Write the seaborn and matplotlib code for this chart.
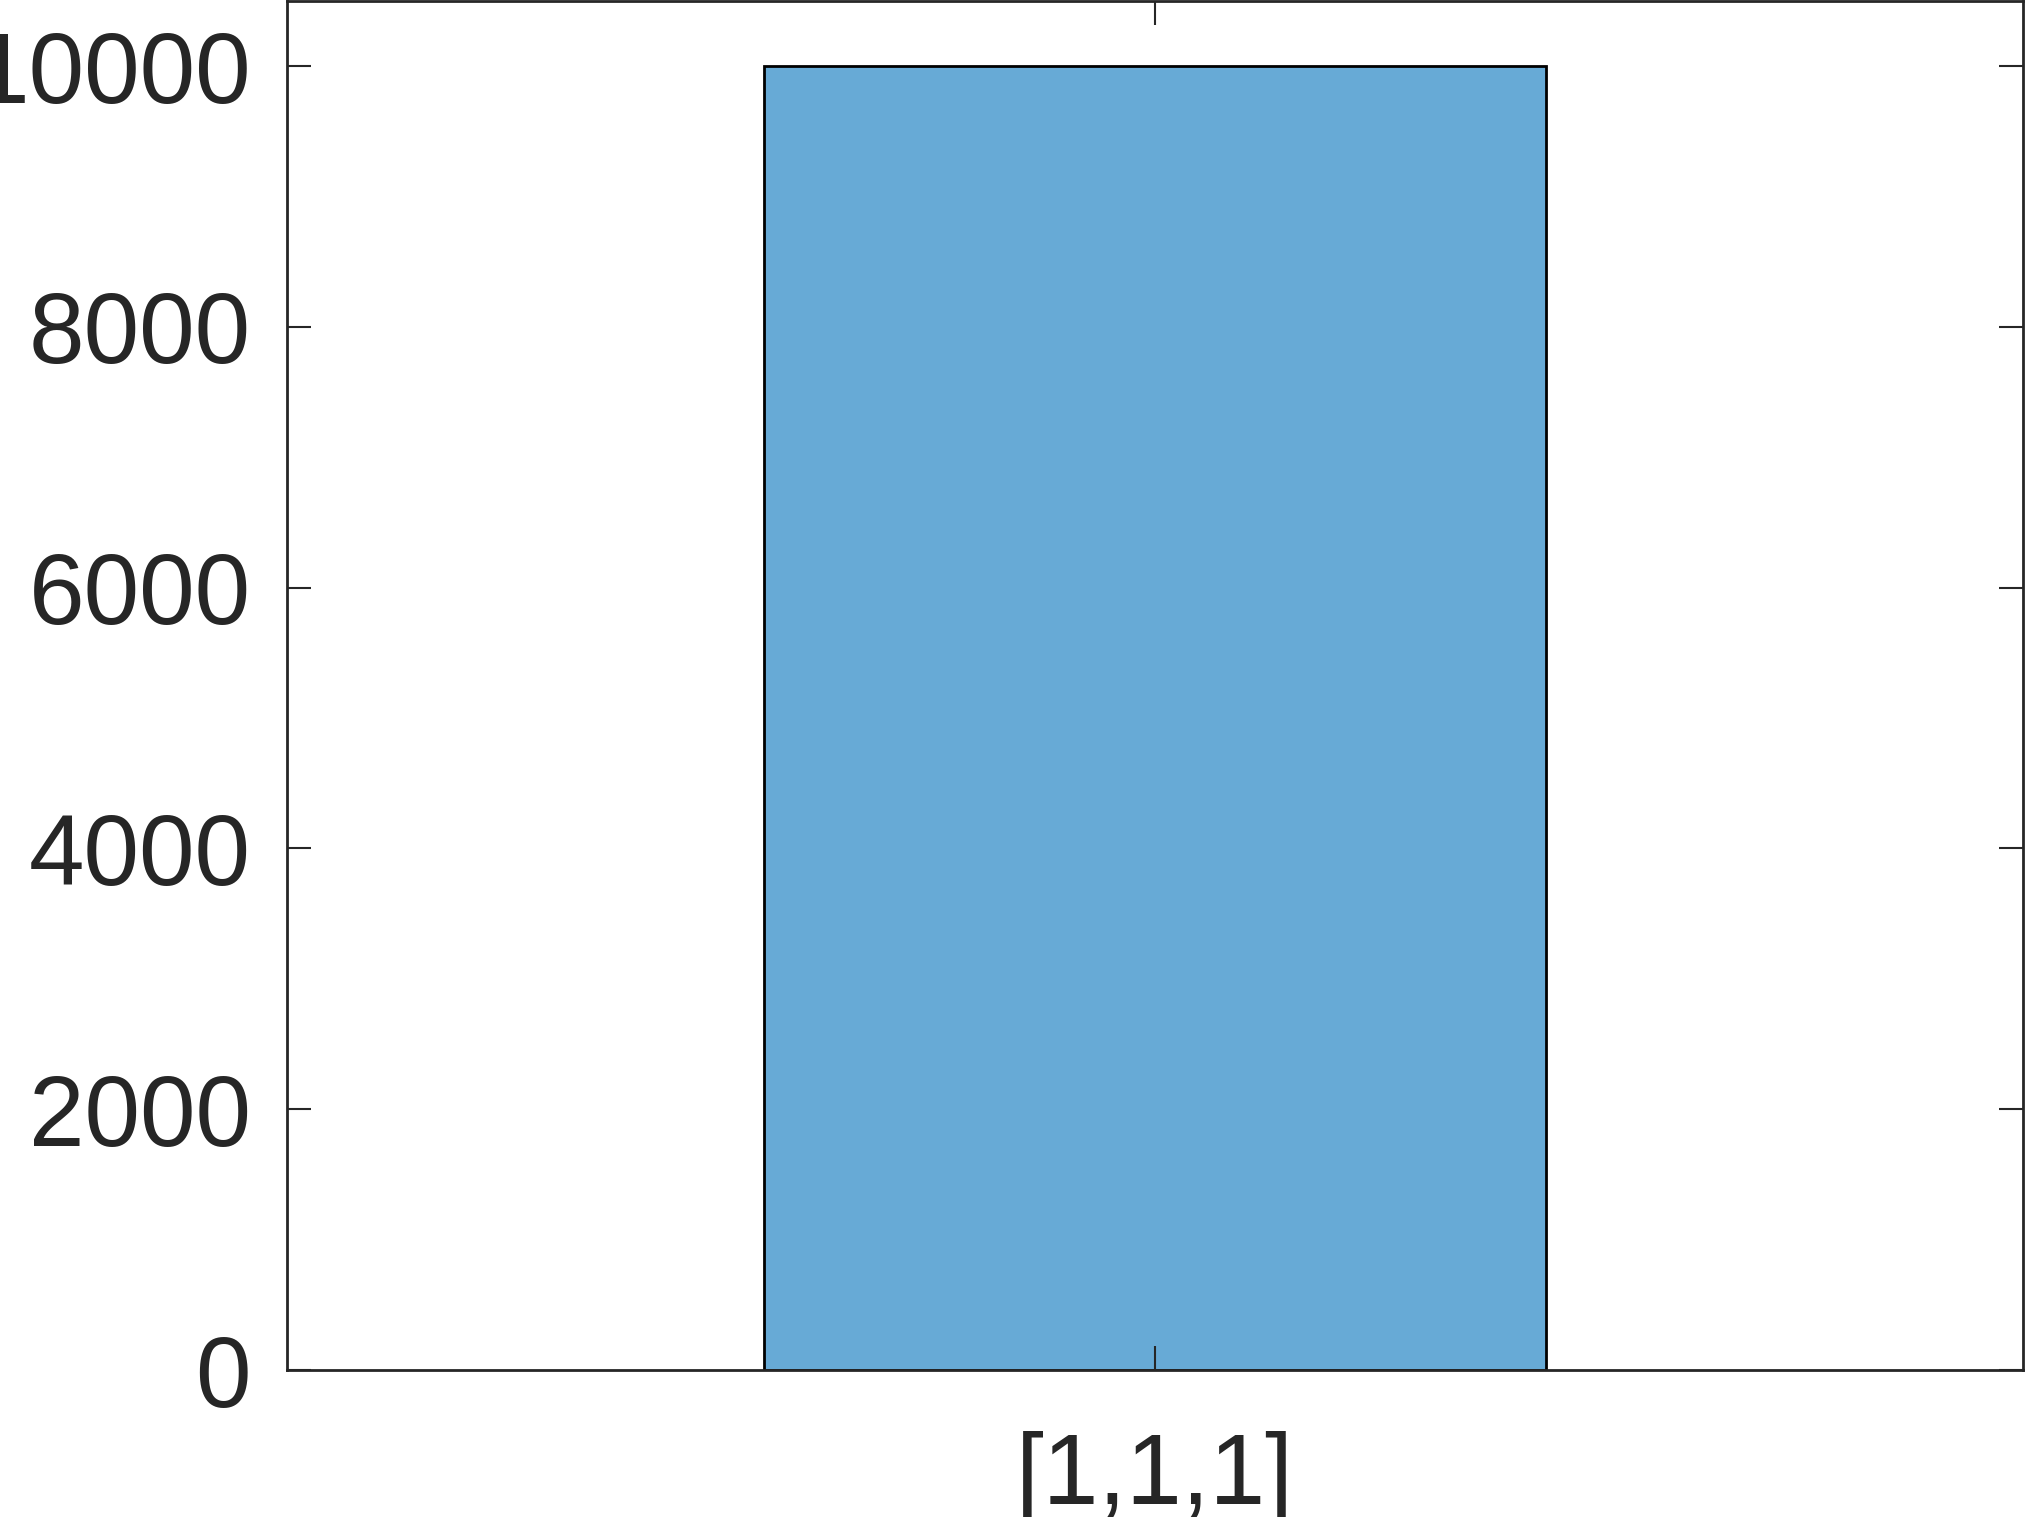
import numpy as np
import pandas as pd
import matplotlib
matplotlib.use("Agg")
import matplotlib.pyplot as plt
import seaborn as sns

# data
categories = ["[1,1,1]"]
counts = [10000]
yticks = [0, 2000, 4000, 6000, 8000, 10000]

sns.set_theme(style="ticks")
plt.rcParams['font.family'] = ['Liberation Sans', 'DejaVu Sans']

df = pd.DataFrame({"cat": categories, "count": counts})

fig = plt.figure(figsize=(20.25, 15.17), dpi=100)
ax = fig.add_axes([287 / 2025, 147 / 1517, 1736 / 2025, 1369 / 1517])

sns.barplot(data=df, x="cat", y="count", ax=ax, color="#67aad6",
            saturation=1, width=0.8, edgecolor="black", linewidth=2)

ax.set_xlim(-0.889, 0.889)
ax.set_ylim(0, 10500)
ax.set_yticks(yticks)
ax.set_xlabel("")
ax.set_ylabel("")
ax.set_axisbelow(False)  # ticks drawn over the bar, like matlab

for s in ax.spines.values():
    s.set_visible(True)
    s.set_linewidth(2)
    s.set_color("#262626")
    s.set_zorder(5)

ax.tick_params(axis="both", direction="in", length=17, width=1.5,
               color="#262626", labelcolor="#262626", labelsize=72,
               top=True, right=True)
ax.tick_params(axis="y", pad=26)
ax.tick_params(axis="x", pad=44)

fig.savefig("out.png", dpi=100)
